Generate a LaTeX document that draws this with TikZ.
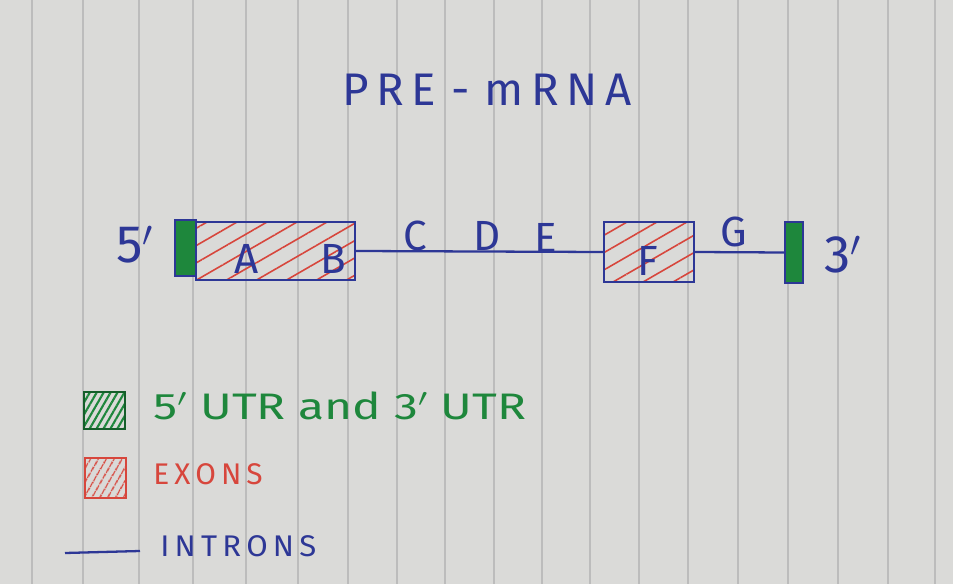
\documentclass[tikz,border=0pt]{standalone}
\usepackage{fontspec}
\setmainfont{Fira Sans}
\usetikzlibrary{patterns.meta}
\definecolor{paper}{RGB}{218,218,216}
\definecolor{rule}{RGB}{188,188,188}
\definecolor{ink}{RGB}{45,55,150}
\definecolor{gink}{RGB}{30,135,60}
\definecolor{rink}{RGB}{215,70,60}
\begin{document}
\begin{tikzpicture}[x=0.02cm,y=-0.02cm,
  blueline/.style={draw=ink,line width=1.3pt},
  utrbox/.style={draw=ink,line width=1.3pt,fill=gink,inner sep=0pt},
  exonbox/.style={draw=ink,line width=1.3pt,inner sep=0pt,
     pattern={Lines[angle=30,distance=0.3cm,line width=0.9pt]},pattern color=rink},
  lab/.style={text=ink,font=\fontsize{24}{24}\selectfont,inner sep=0pt},
  leg/.style={inner sep=0pt,anchor=west}]
\fill[paper] (0,0) rectangle (953,584);
\useasboundingbox (0,0) rectangle (953,584);
\foreach \x in {32,83,139,193,246,298,348,397,445,494,542,590,639,688,738,788,838,888,935}
  \draw[rule,line width=0.6pt] (\x,0) -- (\x,584);
% title
\node[lab,font=\fontsize{26}{26}\selectfont] (title) at (487,90) {P\,R\,E\,\,-\,\,m\,R\,N\,A};
% gene
\node[utrbox,minimum width=0.42cm,minimum height=1.12cm] (utr5) at (185.5,248) {};
\node[exonbox,minimum width=3.18cm,minimum height=1.16cm] (exab) at (275.5,251) {};
\node[exonbox,minimum width=1.8cm,minimum height=1.2cm] (exf) at (649,252) {};
\node[utrbox,minimum width=0.36cm,minimum height=1.22cm] (utr3) at (794,252.5) {};
\draw[blueline] (exab.east) -- (exf.west);
\draw[blueline] (exf.east) -- (utr3.west);
\node[lab] (la) at (247,259) {A};
\node[lab] (lb) at (333,259) {B};
\node[lab] (lc) at (415,236) {C};
\node[lab] (ld) at (487,236) {D};
\node[lab] (le) at (546,238) {E};
\node[lab] (lf) at (648,261) {F};
\node[lab] (lg) at (734,232) {G};
\node[lab,font=\fontsize{30}{30}\selectfont] (l5) at (135,245) {5$'$};
\node[lab,font=\fontsize{30}{30}\selectfont] (l3) at (843,255) {3$'$};
% legend
\node[draw=gink!70!black,line width=1.3pt,minimum width=0.82cm,minimum height=0.74cm,inner sep=0pt,
  pattern={Lines[angle=60,distance=0.12cm,line width=1.2pt]},pattern color=gink] (kg) at (104.5,410.5) {};
\node[draw=rink,line width=1.3pt,minimum width=0.82cm,minimum height=0.8cm,inner sep=0pt,
  pattern={Lines[angle=60,distance=0.14cm,line width=1pt]},pattern color=rink] (kr) at (105.5,478) {};
\coordinate (ki1) at (65,553);
\coordinate (ki2) at (140,551);
\draw[blueline] (ki1) -- (ki2);
\node[leg,text=gink,font=\fontsize{21}{21}\selectfont] (tg) at (153,406) {\scalebox{1.3}[1]{5$'$ UTR and 3$'$ UTR}};
\node[leg,text=rink,font=\fontsize{17}{17}\selectfont] (tr) at (153,474) {E\,X\,O\,N\,S};
\node[leg,text=ink,font=\fontsize{17}{17}\selectfont] (ti) at (160,546) {\scalebox{1.04}[1]{I\,N\,T\,R\,O\,N\,S}};
\end{tikzpicture}
\end{document}
